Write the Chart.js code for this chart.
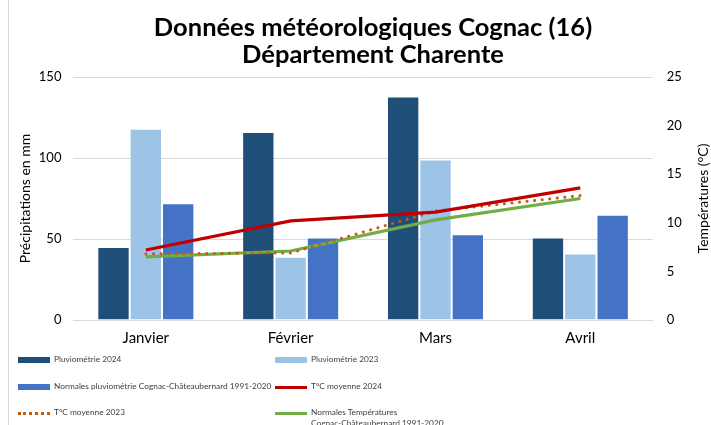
<!DOCTYPE html>
<html lang="fr">
<head>
<meta charset="utf-8">
<script src="https://cdn.jsdelivr.net/npm/chart.js@4"></script>
<style>
  html, body { margin: 0; padding: 0; background: #fff; }
  #wrap { position: relative; width: 711px; height: 425px; overflow: hidden; }
  #wrap:before { content: ''; position: absolute; left: 8px; top: 0; bottom: 0; border-left: 1px solid #d9d9d9; }
  #legende {
    position: absolute; left: 18px; top: 354px; width: 690px;
    display: grid; grid-template-columns: 257px 300px; grid-auto-rows: 26.5px;
    font-family: Lato, 'Open Sans', sans-serif; font-size: 8.3px; color: #404040;
  }
  .item { display: flex; align-items: flex-start; }
  .swatch { width: 32px; margin-right: 4px; flex: none; margin-top: 5px; }
  .item span.txt { line-height: 11px; }
  .item span.mot { white-space: nowrap; }
</style>
</head>
<body>
<div id="wrap">
  <canvas id="graphique"></canvas>
  <div id="legende"></div>
</div>
<script>
(() => {
  'use strict'

  const mois = ['Janvier', 'Février', 'Mars', 'Avril']

  const pluvio2024 = [45, 116, 138, 51]
  const pluvio2023 = [118, 39, 99, 41]
  const normalesPluvio = [72, 51, 53, 65]

  const temp2024 = [7.2, 10.2, 11.1, 13.6]
  const temp2023 = [6.8, 6.9, 11.2, 12.8]
  const normalesTemp = [6.5, 7.1, 10.3, 12.5]

  const titre = ['Données météorologiques Cognac (16)', 'Département Charente']
  const titreGauche = 'Précipitations en mm'
  const titreDroit = 'Températures (°C)'

  const police = 'Lato, "Open Sans", sans-serif'
  const ctx = document.getElementById('graphique')

  // titres dessinés à la main : position comme dans Excel, axe droit lu de bas en haut
  const titresManuels = {
    id: 'titresManuels',
    afterDraw(chart) {
      const c = chart.ctx
      const a = chart.chartArea
      const milieu = (a.top + a.bottom) / 2
      c.save()
      c.fillStyle = '#000'
      c.textAlign = 'center'
      c.textBaseline = 'middle'

      c.font = 'bold 25.5px ' + police
      titre.forEach((ligne, i) => c.fillText(ligne, 373, 28 + i * 27))

      c.font = '14px ' + police
      c.save()
      c.translate(25, milieu)
      c.rotate(-Math.PI / 2)
      c.fillText(titreGauche, 0, 0)
      c.restore()

      c.translate(chart.width - 8, milieu)
      c.rotate(-Math.PI / 2)
      c.fillText(titreDroit, 0, 0)
      c.restore()
    }
  }

  const graphique = new Chart(ctx, {
    data: {
      labels: mois,
      datasets: [
        {
          type: 'line',
          label: 'T°C moyenne 2024',
          data: temp2024,
          borderColor: '#c00000',
          borderWidth: 3.2,
          pointRadius: 0,
          tension: 0,
          yAxisID: 'y1',
          order: 1
        },
        {
          type: 'line',
          label: 'T°C moyenne 2023',
          data: temp2023,
          borderColor: '#c55a11',
          borderWidth: 3,
          borderDash: [0.1, 7.5],
          borderCapStyle: 'round',
          pointRadius: 0,
          tension: 0,
          yAxisID: 'y1',
          order: 1
        },
        {
          type: 'line',
          label: 'Normales Températures Cognac-Châteaubernard 1991-2020',
          data: normalesTemp,
          borderColor: '#70ad47',
          borderWidth: 3.2,
          pointRadius: 0,
          tension: 0,
          yAxisID: 'y1',
          order: 1
        },
        {
          type: 'bar',
          label: 'Pluviométrie 2024',
          data: pluvio2024,
          backgroundColor: '#1f4e79',
          borderColor: 'rgba(255,255,255,0.35)',
          borderWidth: 1,
          yAxisID: 'y',
          barPercentage: 1,
          categoryPercentage: 0.67,
          order: 2
        },
        {
          type: 'bar',
          label: 'Pluviométrie 2023',
          data: pluvio2023,
          backgroundColor: '#9dc3e6',
          borderColor: 'rgba(255,255,255,0.35)',
          borderWidth: 1,
          yAxisID: 'y',
          barPercentage: 1,
          categoryPercentage: 0.67,
          order: 2
        },
        {
          type: 'bar',
          label: 'Normales pluviométrie Cognac-Châteaubernard 1991-2020',
          data: normalesPluvio,
          backgroundColor: '#4472c4',
          borderColor: 'rgba(255,255,255,0.35)',
          borderWidth: 1,
          yAxisID: 'y',
          barPercentage: 1,
          categoryPercentage: 0.67,
          order: 2
        }
      ]
    },
    options: {
      responsive: true,
      maintainAspectRatio: false,
      animation: false,
      layout: { padding: { left: 10, right: 2, top: 14, bottom: 69 } },
      plugins: {
        legend: { display: false },
        tooltip: { enabled: false },
        title: {
          // réserve la place ; le texte visible est dessiné par titresManuels
          display: true,
          text: titre,
          color: 'rgba(0,0,0,0)',
          font: { family: police, size: 25, weight: 'bold', lineHeight: 1.1 },
          padding: { top: 0, bottom: 8 }
        }
      },
      scales: {
        x: {
          grid: { display: false, drawTicks: false },
          border: { color: '#d9d9d9', width: 1 },
          ticks: { color: '#000', font: { family: police, size: 15 }, padding: 9 }
        },
        y: {
          position: 'left',
          min: 0,
          max: 150,
          ticks: { stepSize: 50, color: '#000', font: { family: police, size: 13 }, padding: 12 },
          grid: { color: '#d9d9d9', drawTicks: false },
          border: { display: false },
          title: { display: true, text: titreGauche, color: 'rgba(0,0,0,0)', font: { family: police, size: 14 }, padding: 0 }
        },
        y1: {
          position: 'right',
          min: 0,
          max: 25,
          ticks: { stepSize: 5, color: '#000', font: { family: police, size: 13 }, padding: 14 },
          grid: { drawOnChartArea: false, drawTicks: false },
          border: { display: false },
          title: { display: true, text: titreDroit, color: 'rgba(0,0,0,0)', font: { family: police, size: 11 }, padding: 0 }
        }
      }
    },
    plugins: [titresManuels]
  })

  // légende HTML en deux colonnes, construite depuis les jeux de données
  const ordreLegende = [3, 4, 5, 0, 1, 2]
  const legende = document.getElementById('legende')
  ordreLegende.forEach((i, n) => {
    const ds = graphique.data.datasets[i]
    const item = document.createElement('div')
    item.className = 'item'
    const swatch = document.createElement('div')
    swatch.className = 'swatch'
    if (ds.type === 'bar') {
      swatch.style.height = '6px'
      swatch.style.marginTop = '3px'
      swatch.style.background = ds.backgroundColor
    } else if (ds.borderDash) {
      swatch.style.height = '0'
      swatch.style.borderTop = '3px dotted ' + ds.borderColor
    } else {
      swatch.style.height = '3px'
      swatch.style.background = ds.borderColor
    }
    const texte = document.createElement('span')
    texte.className = 'txt'
    const mots = ds.label.split(' ')
    mots.forEach((mot, k) => {
      const m = document.createElement('span')
      m.className = 'mot'
      m.textContent = mot
      texte.appendChild(m)
      if (k < mots.length - 1) texte.appendChild(document.createTextNode(' '))
    })
    if (n % 2 === 0) texte.style.whiteSpace = 'nowrap'
    else texte.style.maxWidth = '150px'
    item.appendChild(swatch)
    item.appendChild(texte)
    legende.appendChild(item)
  })
})()
</script>
</body>
</html>
